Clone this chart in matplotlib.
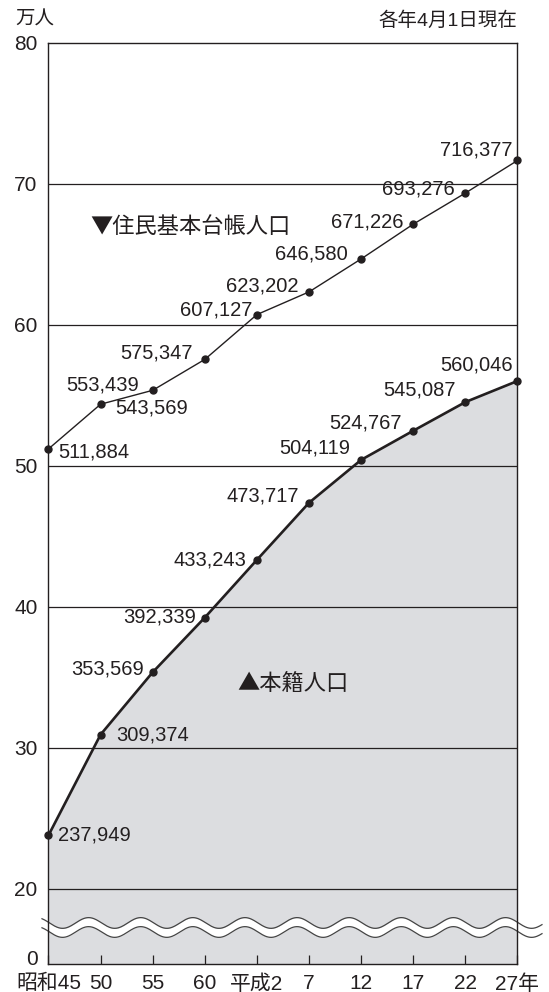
import matplotlib
matplotlib.use("Agg")
import matplotlib.pyplot as plt
import numpy as np

plt.rcParams['font.family'] = ['Liberation Sans', 'Noto Sans CJK JP']

# data (persons)
years = ['昭和45', '50', '55', '60', '平成2', '7', '12', '17', '22', '27年']
juki = [511884, 543569, 553439, 575347, 607127, 623202, 646580, 671226, 693276, 716377]
honseki = [237949, 309374, 353569, 392339, 433243, 473717, 504119, 524767, 545087, 560046]

# label offsets in pixels (dx, dy, ha)
juki_off = [(10, -3, 'left'), (15, -4, 'left'), (-14, 5, 'right'), (-12, 6, 'right'),
            (-5, 5, 'right'), (-11, 6, 'right'), (-13, 5, 'right'), (-10, 2, 'right'),
            (-11, 4, 'right'), (-5, 10, 'right')]
hon_off = [(10, 0, 'left'), (16, 0, 'left'), (-9, 3, 'right'), (-9, 1, 'right'),
           (-11, 0, 'right'), (-10, 7, 'right'), (-11, 12, 'right'), (-12, 8, 'right'),
           (-10, 12, 'right'), (-5, 16, 'right')]

ink = '#231f20'
x = np.arange(len(years))
yj = np.array(juki) / 10000
yh = np.array(honseki) / 10000
ybot = 14.65

fig = plt.figure(figsize=(5.49, 9.92), dpi=100)
ax = fig.add_axes([0.08834, 0.02792, 0.85428, 0.92923])
ax.set_xlim(0, 9)
ax.set_ylim(ybot, 80)

# shaded area under honseki
ax.fill_between(x, yh, ybot, color='#dcdde0', lw=0, zorder=1)

# grid lines
for g in [20, 30, 40, 50, 60, 70]:
    ax.axhline(g, color=ink, lw=0.9, zorder=2)

# wavy break
xw = np.linspace(-0.125, 9.47, 600)
amp = 0.38
wave = amp * np.cos(2 * np.pi * (xw - 0.77))
up = 17.58 + wave
lo = 16.94 + wave
ax.fill_between(xw, lo, up, color='white', lw=0, zorder=3, clip_on=False)
ax.plot(xw, up, color='#444444', lw=0.9, zorder=4, clip_on=False)
ax.plot(xw, lo, color='#444444', lw=0.9, zorder=4, clip_on=False)

# series
ax.plot(x, yj, color=ink, lw=1.0, marker='o', ms=5, zorder=5, clip_on=False)
ax.plot(x, yh, color=ink, lw=1.9, marker='o', ms=5, zorder=5, clip_on=False)

for i in range(len(x)):
    dx, dy, ha = juki_off[i]
    ax.annotate(f'{juki[i]:,}', (x[i], yj[i]), xytext=(dx, dy), textcoords='offset pixels',
                ha=ha, va='center', fontsize=14.5, color=ink, zorder=6)
    dx, dy, ha = hon_off[i]
    ax.annotate(f'{honseki[i]:,}', (x[i], yh[i]), xytext=(dx, dy), textcoords='offset pixels',
                ha=ha, va='center', fontsize=14.5, color=ink, zorder=6)

cjk = ['Noto Sans CJK JP', 'DejaVu Sans']
ax.text(0.8, 66.96, '▼住民基本台帳人口', fontsize=16, color=ink, va='center', ha='left', family=cjk)
ax.text(3.62, 34.55, '▲本籍人口', fontsize=16, color=ink, va='center', ha='left', family=cjk)

# axes styling
for s in ax.spines.values():
    s.set_color(ink)
    s.set_linewidth(1.0)
    s.set_zorder(7)

ax.set_xticks(x)
ax.set_xticklabels(years, fontsize=15, color=ink)
ax.tick_params(axis='x', direction='in', length=6.5, width=0.9, color=ink, pad=7)
ax.set_yticks([15.1, 20, 30, 40, 50, 60, 70, 80])
ax.set_yticklabels(['0', '20', '30', '40', '50', '60', '70', '80'], fontsize=15, color=ink)
ax.tick_params(axis='y', length=0, pad=8)

fig.text(15 / 549, 1 - 20 / 992, '万人', fontsize=14, color=ink, ha='left', va='center')
fig.text(517 / 549, 1 - 21 / 992, '各年4月1日現在', fontsize=14, color=ink, ha='right', va='center')

fig.savefig('out.png', dpi=100)
